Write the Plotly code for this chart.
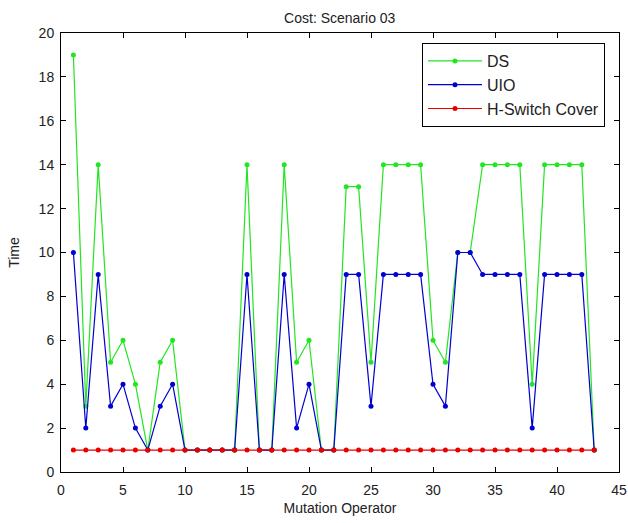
import plotly.graph_objects as go

x_ops = list(range(1, 44))
ds = [19, 3, 14, 5, 6, 4, 1, 5, 6, 1, 1, 1, 1, 1, 14, 1, 1, 14, 5, 6, 1, 1,
      13, 13, 5, 14, 14, 14, 14, 6, 5, 10, 10, 14, 14, 14, 14, 4, 14, 14, 14, 14, 1]
uio = [10, 2, 9, 3, 4, 2, 1, 3, 4, 1, 1, 1, 1, 1, 9, 1, 1, 9, 2, 4, 1, 1,
       9, 9, 3, 9, 9, 9, 9, 4, 3, 10, 10, 9, 9, 9, 9, 2, 9, 9, 9, 9, 1]
hsc = [1] * 43

series = [("DS", ds, "#22e622"), ("UIO", uio, "#0000d0"), ("H-Switch Cover", hsc, "#e80000")]

fig = go.Figure()
for name, vals, col in series:
    fig.add_trace(go.Scatter(x=x_ops, y=vals, name=name, mode="lines+markers",
                             legendgroup=name,
                             line=dict(color=col, width=1.2),
                             marker=dict(color=col, size=5, symbol="circle")))

font = "Liberation Sans, Arial, sans-serif"
axis_common = dict(showline=True, linecolor="black", linewidth=1, mirror="allticks",
                   ticks="inside", ticklen=5, tickcolor="black", showgrid=False,
                   zeroline=False, automargin=False,
                   tickfont=dict(family=font, size=14, color="#222"))

fig.update_layout(
    width=628, height=523,
    margin=dict(l=61, r=9, t=33, b=51),
    paper_bgcolor="white", plot_bgcolor="white",
    title=dict(text="Cost: Scenario 03", x=0.541, xanchor="center", y=1 - 18 / 523, yanchor="middle",
               font=dict(family=font, size=14, color="#222")),
    xaxis=dict(range=[0, 45], tickvals=list(range(0, 46, 5)), ticklabelstandoff=5,
               title=dict(text="Mutation Operator", font=dict(family=font, size=14, color="#222"), standoff=6),
               **axis_common),
    yaxis=dict(range=[0, 20], tickvals=list(range(0, 21, 2)), ticklabelstandoff=3,
               title=dict(text="Time", font=dict(family=font, size=14, color="#222")),
               **axis_common),
    legend=dict(x=(605 - 61) / 558, y=(472 - 43) / 439, xanchor="right", yanchor="top",
                bgcolor="white", bordercolor="black", borderwidth=1,
                font=dict(family=font, size=16, color="#222"),
                traceorder="grouped", tracegroupgap=0, itemwidth=54),
    showlegend=True,
)

fig.write_html("out.html", post_script="document.body.style.margin='0';",
               config={"displayModeBar": False})
